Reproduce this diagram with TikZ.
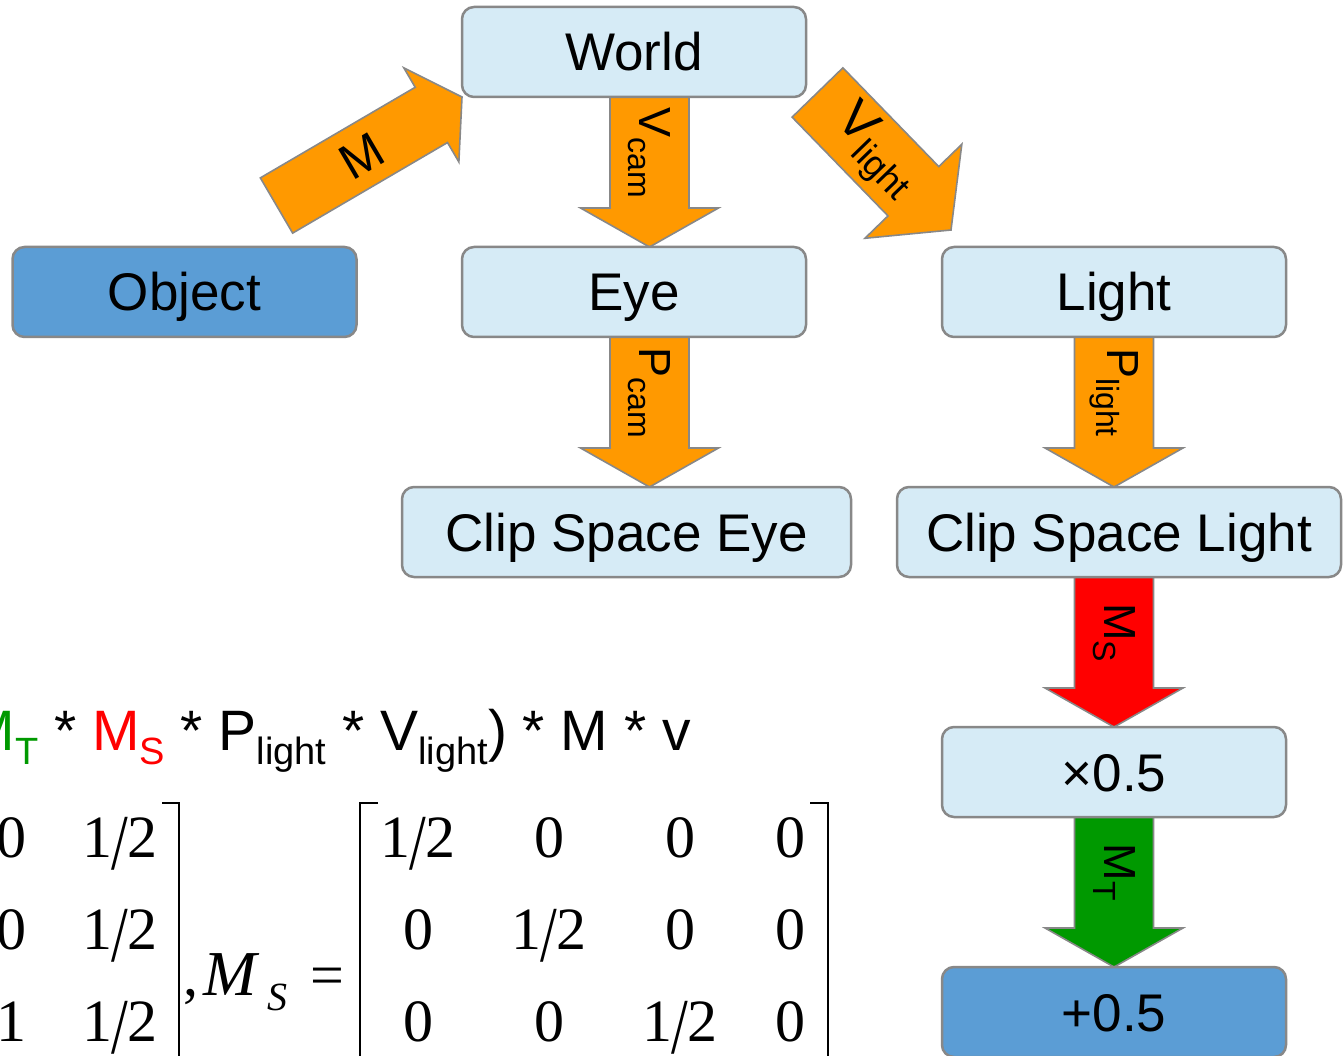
\documentclass[tikz,border=0pt]{standalone}
\usepackage{fontspec}
\usepackage{graphicx}
\setmainfont{Liberation Sans}
\newfontfamily\mtxfont{Liberation Serif}
\usetikzlibrary{calc}

\definecolor{boxfill}{RGB}{214,235,246}
\definecolor{endfill}{RGB}{91,157,213}
\definecolor{edgegray}{RGB}{136,136,136}
\definecolor{arroworange}{RGB}{255,153,0}
\definecolor{scalered}{RGB}{255,0,0}
\definecolor{shiftgreen}{RGB}{0,153,0}

\pgfdeclarelayer{arrowlayer}
\pgfsetlayers{arrowlayer,main}

% subscripts for arrow labels and for the formula line
\newcommand\lsub[1]{\raisebox{-11pt}{\fontsize{32}{32}\selectfont #1}}
\newcommand\lsubbig[1]{\raisebox{-12pt}{\fontsize{36}{36}\selectfont #1}}
\newcommand\fsub[1]{\raisebox{-14pt}{\fontsize{38}{38}\selectfont #1}}
% one half with a long slash
\newcommand\hf{1\kern-0.02em\raisebox{-0.2em}{\scalebox{1}[1.32]{/}}\kern-0.02em2}

% position of an arrow label along the shaft (0 = tail, 1 = head base)
\newcommand\balabelpos{0.5}

% block arrow: name, fill, from, to, shaft half width, head half width, head length, label
\newcommand\blockarrow[8]{%
  \coordinate (#1-base) at ($(#4)!#7!(#3)$);
  \draw[blockarrow, fill=#2] ($(#3)!#5!90:(#4)$) -- ($(#1-base)!#5!-90:(#3)$)
    -- ($(#1-base)!#6!-90:(#3)$) -- (#4) -- ($(#1-base)!#6!90:(#3)$)
    -- ($(#1-base)!#5!90:(#3)$) -- ($(#3)!#5!-90:(#4)$) -- cycle;
  \path let \p1 = ($(#4)-(#3)$), \n1 = {atan2(\y1,\x1)} in
    node[arrowlabel, rotate=\n1] (#1-label) at ($(#3)!\balabelpos!(#1-base)$) {#8};
}

\tikzset{
  box/.style={draw=edgegray, line width=2.5pt, rounded corners=12pt, fill=boxfill,
    minimum width=344pt, minimum height=90pt, inner sep=0pt, outer sep=0pt,
    text height=38pt, text depth=0pt, font=\fontsize{53}{60}\selectfont},
  endbox/.style={box, fill=endfill},
  blockarrow/.style={draw=edgegray, line width=1.6pt, line join=miter},
  arrowlabel/.style={inner sep=0pt, font=\fontsize{45}{45}\selectfont},
  mtx/.style={inner sep=0pt, anchor=base, font=\mtxfont\fontsize{60}{60}\selectfont},
  bracket/.style={line width=2.6pt, line cap=butt}
}

\begin{document}
\begin{tikzpicture}[x=1pt, y=-1pt]
\useasboundingbox (0,0) rectangle (1343,1056);
\clip (0,0) rectangle (1343,1056);

% spaces
\node[box] (world) at (634,52) {World};
\node[endbox] (object) at (184.5,292) {Object};
\node[box] (eye) at (634,292) {Eye};
\node[box] (light) at (1114,292) {Light};
\node[box, minimum width=449pt] (cseye) at (626.5,532) {Clip Space Eye};
\node[box, minimum width=444pt] (cslight) at (1119,532) {Clip Space Light};
\node[box] (half) at (1114,772) {×0.5};
\node[endbox] (offset) at (1114,1012) {+0.5};

% transforms between the spaces
\coordinate (vcamA) at ($(world.south)+(15.5,0)$);
\coordinate (vcamB) at (vcamA |- eye.north);
\coordinate (pcamA) at ($(eye.south)+(15.5,0)$);
\coordinate (pcamB) at (pcamA |- cseye.north);
\coordinate (plightB) at (light.south |- cslight.north);
\coordinate (msA) at (half.north |- cslight.south);
\coordinate (mTail) at (276.5,205.5);
\coordinate (vlTail) at (817.5,92.5);
\coordinate (vlTip) at (951,230);

\begin{pgfonlayer}{arrowlayer}
  {\renewcommand\balabelpos{0.55}%
   \blockarrow{model}{arroworange}{mTail}{world.south west}{32pt}{54.5pt}{35.5pt}{\fontsize{50}{50}\selectfont M}}
  {\renewcommand\balabelpos{0.6}%
   \blockarrow{vlight}{arroworange}{vlTail}{vlTip}{35.4pt}{67.5pt}{54pt}{\fontsize{52}{52}\selectfont V\lsubbig{light}}}
  \blockarrow{vcam}{arroworange}{vcamA}{vcamB}{39.5pt}{69pt}{39pt}{V\lsub{cam}}
  \blockarrow{pcam}{arroworange}{pcamA}{pcamB}{39.5pt}{69pt}{39pt}{P\lsub{cam}}
  \blockarrow{plight}{arroworange}{light.south}{plightB}{39.5pt}{69pt}{39pt}{P\lsub{light}}
  \blockarrow{ms}{scalered}{msA}{half.north}{39.5pt}{69pt}{39pt}{M\lsub{S}}
  \blockarrow{mt}{shiftgreen}{half.south}{offset.north}{39.5pt}{69pt}{39pt}{M\lsub{T}}
\end{pgfonlayer}

% composed transform
\node[anchor=base east, inner sep=0pt, font=\fontsize{57}{57}\selectfont] (formula) at (691,750)
  {\textcolor{shiftgreen}{M\fsub{T}} * \textcolor{scalered}{M\fsub{S}} * P\fsub{light} * V\fsub{light}) * M * v};

% matrix entries
\foreach \nm/\x/\y/\v in {
  mt13/12/857/0, mt14/120/857/\hf,
  mt23/12/949/0, mt24/120/949/\hf,
  mt33/12/1041/1, mt34/120/1041/\hf,
  ms11/418/857/\hf, ms12/549/857/0, ms13/680/857/0, ms14/790/857/0,
  ms21/418/949/0, ms22/549/949/\hf, ms23/680/949/0, ms24/790/949/0,
  ms31/418/1041/0, ms32/549/1041/0, ms33/680/1041/\hf, ms34/790/1041/0}
  \node[mtx] (\nm) at (\x,\y) {\v};

% brackets
\draw[bracket] (162,803) -- (179,803) -- (179,1060);
\draw[bracket] (378,803) -- (360,803) -- (360,1060);
\draw[bracket] (810,803) -- (828,803) -- (828,1060);

% ", M_S ="
\node[mtx] (comma) at (191,995) {,};
\node[mtx, anchor=base west, font=\mtxfont\itshape\fontsize{64}{64}\selectfont] (msname) at (203,995) {M};
\node[mtx, anchor=base west, font=\mtxfont\itshape\fontsize{40}{40}\selectfont] (msidx) at (267,1010) {S};
\node[mtx] (eqsign) at (327,995) {=};
\end{tikzpicture}
\end{document}
